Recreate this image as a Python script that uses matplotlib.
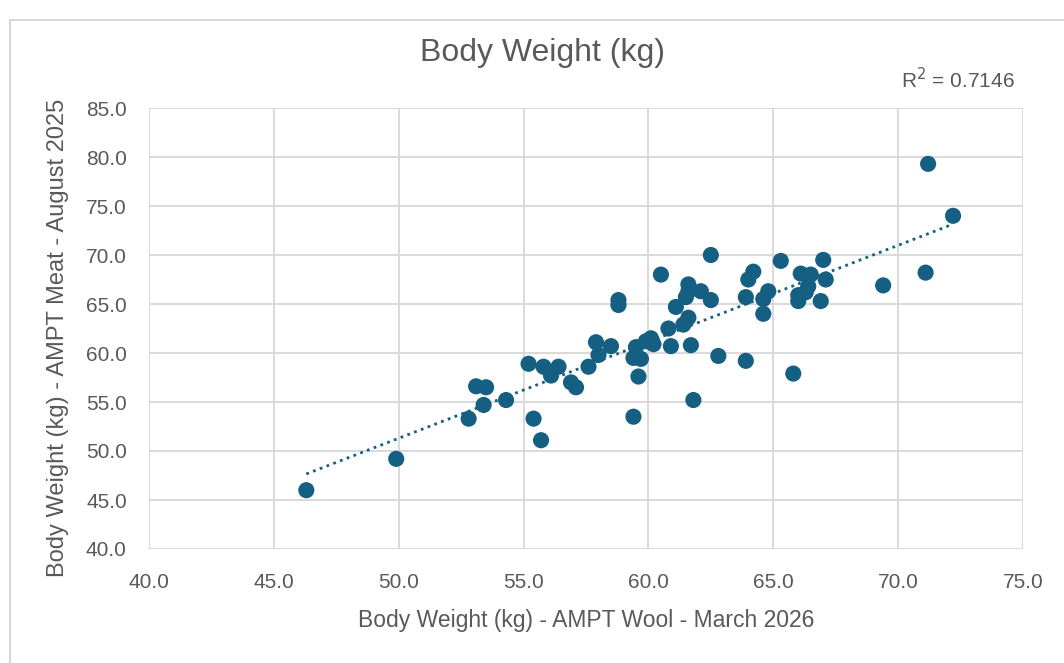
import numpy as np
import matplotlib
matplotlib.use("Agg")
import matplotlib.pyplot as plt
from matplotlib import font_manager
from matplotlib.patches import Rectangle

# ---- data ----
wool_march_2026 = [46.3, 49.9, 52.8, 53.1, 53.5, 53.4, 54.3, 55.4, 55.7, 55.2,
                   55.8, 56.4, 56.1, 56.9, 57.1, 57.6, 57.9, 58.0, 58.5, 58.8,
                   58.8, 59.4, 59.6, 59.4, 59.7, 59.5, 59.9, 60.1, 60.2, 60.5,
                   60.8, 60.9, 61.1, 61.4, 61.6, 61.6, 61.6, 61.5, 62.1, 62.5,
                   61.7, 61.8, 62.5, 62.8, 63.9, 63.9, 64.0, 64.2, 64.6, 64.8,
                   64.6, 65.3, 65.8, 66.1, 66.5, 66.0, 66.0, 66.4, 66.3, 66.9,
                   67.0, 67.1, 69.4, 71.1, 71.2, 72.2]
meat_aug_2025 = [46.0, 49.2, 53.3, 56.6, 56.5, 54.7, 55.2, 53.3, 51.1, 58.9,
                 58.6, 58.6, 57.7, 57.0, 56.5, 58.6, 61.1, 59.8, 60.7, 65.4,
                 64.9, 53.5, 57.6, 59.5, 59.4, 60.6, 61.2, 61.5, 60.9, 68.0,
                 62.5, 60.7, 64.7, 62.9, 63.6, 67.0, 66.3, 65.7, 66.3, 65.4,
                 60.8, 55.2, 70.0, 59.7, 59.2, 65.7, 67.5, 68.3, 65.5, 66.3,
                 64.0, 69.4, 57.9, 68.1, 68.0, 65.9, 65.3, 66.8, 66.2, 65.3,
                 69.5, 67.5, 66.9, 68.2, 79.3, 74.0]
r_squared_label = "0.7146"
x_ticks = [40.0, 45.0, 50.0, 55.0, 60.0, 65.0, 70.0, 75.0]
y_ticks = [40.0, 45.0, 50.0, 55.0, 60.0, 65.0, 70.0, 75.0, 80.0, 85.0]

# ---- fonts ----
installed = {f.name for f in font_manager.fontManager.ttflist}
fam = ["Liberation Sans", "Lato", "DejaVu Sans"]
fam = [f for f in fam if f in installed] or ["DejaVu Sans"]
plt.rcParams["font.family"] = fam

W, H, DPI = 1064, 663, 100
fig = plt.figure(figsize=(W / DPI, H / DPI), dpi=DPI)
fig.patch.set_facecolor("white")

# chart frame
fig.patches.append(Rectangle((10 / W, -0.05), 1.2, (H - 20) / H + 0.05,
                             transform=fig.transFigure, fill=False,
                             edgecolor="#D0D0D0", linewidth=1.2))

left, right, top, bottom = 149 / W, 1023 / W, 1 - 108 / H, 1 - 549 / H
ax = fig.add_axes([left, bottom, right - left, top - bottom])

teal = "#156082"
grey_txt = "#595959"

x = np.array(wool_march_2026)
y = np.array(meat_aug_2025)
slope, intercept = np.polyfit(x, y, 1)
xl = np.array([x.min(), x.max()])
ax.plot(xl, slope * xl + intercept, color=teal, linewidth=2.0,
        linestyle=(0, (1, 1.6)), zorder=2)
ax.scatter(x, y, s=135, color=teal, edgecolors="none", zorder=3)

ax.set_xlim(40, 75)
ax.set_ylim(40, 85)
ax.set_xticks(x_ticks)
ax.set_yticks(y_ticks)
ax.set_xticklabels([f"{v:.1f}" for v in x_ticks])
ax.set_yticklabels([f"{v:.1f}" for v in y_ticks])
ax.grid(True, color="#D9D9D9", linewidth=1.4)
ax.set_axisbelow(True)
for s in ax.spines.values():
    s.set_visible(False)
ax.tick_params(length=0, labelsize=15, colors=grey_txt)
ax.tick_params(axis="x", pad=17)
ax.tick_params(axis="y", pad=16)

fig.text(586 / W, 1 - 620 / H, "Body Weight (kg) - AMPT Wool - March 2026",
         fontsize=16.5, color=grey_txt, ha="center", va="center")
fig.text(58 / W, 1 - 338 / H, "Body Weight (kg) - AMPT Meat - August 2025",
         fontsize=17, color=grey_txt, ha="center", va="center", rotation=90)

fig.text(543 / W, 1 - 53 / H, "Body Weight (kg)", fontsize=23, color=grey_txt,
         ha="center", va="center")
fig.text(1015 / W, 1 - 80 / H, "R$^2$ = " + r_squared_label, fontsize=15,
         color=grey_txt, ha="right", va="center")

fig.savefig("out.png", dpi=DPI, facecolor="white")
